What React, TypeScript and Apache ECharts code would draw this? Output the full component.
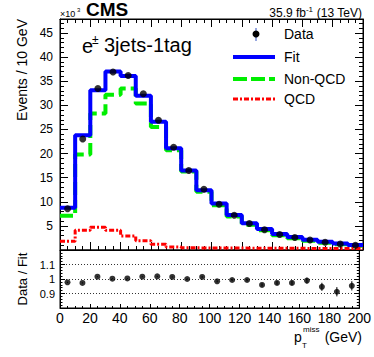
import React, { useEffect, useRef } from "react";
import * as echarts from "echarts";

const binLow = [0, 10, 20, 30, 40, 50, 60, 70, 80, 90, 100, 110, 120, 130, 140, 150, 160, 170, 180, 190];
const binHigh = [10, 20, 30, 40, 50, 60, 70, 80, 90, 100, 110, 120, 130, 140, 150, 160, 170, 180, 190, 200];
const binCenter = [5, 15, 25, 35, 45, 55, 65, 75, 85, 95, 105, 115, 125, 135, 145, 155, 165, 175, 185, 195];

const dataValues = [8.55, 23.0, 33.5, 36.9, 36.2, 32.4, 26.9, 21.3, 16.5, 12.6, 9.5, 7.2, 5.5, 4.2, 3.2, 2.6, 2.07, 1.6, 1.24, 0.97];
const fitValues = [8.75, 23.8, 33.1, 37.0, 36.1, 32.0, 26.6, 21.1, 16.5, 12.4, 9.65, 7.25, 5.55, 4.38, 3.3, 2.67, 2.1, 1.69, 1.36, 1.02];
const nonQcdValues = [7.1, 19.8, 28.3, 32.2, 33.5, 30.4, 25.5, 20.7, 16.3, 12.1, 9.3, 6.95, 5.25, 4.1, 3.05, 2.45, 1.9, 1.5, 1.2, 0.88];
const qcdValues = [1.8, 4.1, 4.7, 4.1, 2.9, 1.9, 1.2, 0.6, 0.45, 0.42, 0.4, 0.4, 0.38, 0.36, 0.35, 0.34, 0.33, 0.32, 0.3, 0.3];

const ratioValues = [0.977, 0.973, 1.016, 1.002, 1.004, 1.016, 1.018, 1.014, 1.0, 1.014, 0.984, 0.993, 0.993, 0.959, 0.973, 0.973, 0.989, 0.946, 0.912, 0.953];
const ratioErrors = [0.004, 0.004, 0.003, 0.003, 0.003, 0.003, 0.004, 0.004, 0.005, 0.006, 0.007, 0.008, 0.009, 0.011, 0.013, 0.016, 0.02, 0.028, 0.032, 0.032];

const xTicks = [0, 20, 40, 60, 80, 100, 120, 140, 160, 180, 200];

const FONT = "'Liberation Sans', Arial, Helvetica, sans-serif";

function stepPoints(vals: number[]) {
  const pts: number[][] = [];
  vals.forEach((v, i) => {
    pts.push([binLow[i], v]);
    pts.push([binHigh[i], v]);
  });
  return pts;
}

export default function App() {
  const ref = useRef<HTMLDivElement>(null);
  useEffect(() => {
    if (!ref.current) return;
    const chart = echarts.init(ref.current, null, { renderer: "svg" });

    const L = 60, W = 303, T1 = 19, H1 = 231, T2 = 250, H2 = 58;

    const xCommon = (gridIndex: number, showLabel: boolean, position: string, tickLen: number) => ({
      type: "value",
      gridIndex,
      position,
      min: 0,
      max: 200,
      interval: 20,
      axisLine: { show: true, onZero: false, lineStyle: { color: "#000", width: 1 } },
      axisTick: { show: true, inside: true, length: tickLen, lineStyle: { color: "#000" } },
      minorTick: { show: true, splitNumber: 4, length: tickLen / 2, lineStyle: { color: "#000" } },
      splitLine: { show: false },
      axisLabel: {
        show: showLabel,
        fontSize: 14,
        fontFamily: FONT,
        color: "#000",
        margin: 3,
        formatter: (v: number) => (xTicks.includes(v) ? String(v) : ""),
      },
    });

    const ratioY = (position: string, showLabel: boolean) => ({
      type: "value",
      gridIndex: 1,
      position,
      min: 0.8,
      max: 1.2,
      interval: 0.1,
      axisLine: { show: true, onZero: false, lineStyle: { color: "#000" } },
      axisTick: { show: true, inside: true, length: 5, lineStyle: { color: "#000" } },
      minorTick: { show: true, splitNumber: 5, length: 2.5, lineStyle: { color: "#000" } },
      splitLine: { show: showLabel, lineStyle: { color: "#333", type: [1, 2], width: 1 } },
      axisLabel: {
        show: showLabel,
        fontSize: 11,
        fontFamily: FONT,
        color: "#000",
        margin: 5,
        formatter: (v: number) => {
          if (Math.abs(v - 1) < 1e-6) return "1";
          if (Math.abs(v - 0.9) < 1e-6) return "0.9";
          if (Math.abs(v - 1.1) < 1e-6) return "1.1";
          return "";
        },
      },
    });

    const option: any = {
      animation: false,
      backgroundColor: "#fff",
      grid: [
        { left: L, top: T1, width: W, height: H1, show: true, borderColor: "#000", borderWidth: 1, backgroundColor: "transparent" },
        { left: L, top: T2, width: W, height: H2, show: true, borderColor: "#000", borderWidth: 1, backgroundColor: "transparent" },
      ],
      xAxis: [
        xCommon(0, false, "bottom", 8),
        xCommon(1, true, "bottom", 4),
        xCommon(0, false, "top", 8),
      ],
      yAxis: [
        {
          type: "value",
          gridIndex: 0,
          position: "left",
          min: 0,
          max: 47.9,
          interval: 5,
          axisLine: { show: true, onZero: false, lineStyle: { color: "#000" } },
          axisTick: { show: true, inside: true, length: 8, lineStyle: { color: "#000" } },
          minorTick: { show: true, splitNumber: 5, length: 4, lineStyle: { color: "#000" } },
          splitLine: { show: false },
          axisLabel: {
            fontSize: 12,
            fontFamily: FONT,
            color: "#000",
            margin: 7,
            formatter: (v: number) => (v > 0 && Math.abs(v % 5) < 1e-6 ? String(v) : ""),
          },
        },
        {
          type: "value",
          gridIndex: 0,
          position: "right",
          min: 0,
          max: 47.9,
          interval: 5,
          axisLine: { show: true, onZero: false, lineStyle: { color: "#000" } },
          axisTick: { show: true, inside: true, length: 8, lineStyle: { color: "#000" } },
          minorTick: { show: true, splitNumber: 5, length: 4, lineStyle: { color: "#000" } },
          splitLine: { show: false },
          axisLabel: { show: false },
        },
        ratioY("left", true),
        ratioY("right", false),
      ],
      series: [
        {
          name: "Non-QCD",
          type: "line",
          xAxisIndex: 0,
          yAxisIndex: 0,
          data: stepPoints(nonQcdValues),
          symbol: "none",
          lineStyle: { color: "#00ee00", width: 4, type: [13, 5] },
          z: 2,
        },
        {
          name: "Fit",
          type: "line",
          xAxisIndex: 0,
          yAxisIndex: 0,
          data: stepPoints(fitValues),
          symbol: "none",
          lineStyle: { color: "#0000ff", width: 4 },
          z: 3,
        },
        {
          name: "QCD",
          type: "line",
          xAxisIndex: 0,
          yAxisIndex: 0,
          data: stepPoints(qcdValues),
          symbol: "none",
          lineStyle: { color: "#ff0000", width: 3, type: [5, 2, 2, 2] },
          z: 4,
        },
        {
          name: "Data",
          type: "scatter",
          xAxisIndex: 0,
          yAxisIndex: 0,
          data: binCenter.map((x, i) => [x, dataValues[i]]),
          symbol: "circle",
          symbolSize: 7,
          itemStyle: { color: "#000" },
          z: 5,
        },
        {
          name: "RatioErr",
          type: "custom",
          xAxisIndex: 1,
          yAxisIndex: 2,
          data: binCenter.map((x, i) => [x, ratioValues[i] - ratioErrors[i], ratioValues[i] + ratioErrors[i]]),
          renderItem: (params: any, api: any) => {
            const p1 = api.coord([api.value(0), api.value(1)]);
            const p2 = api.coord([api.value(0), api.value(2)]);
            return {
              type: "line",
              shape: { x1: p1[0], y1: p1[1], x2: p2[0], y2: p2[1] },
              style: { stroke: "#000", lineWidth: 1 },
            };
          },
          z: 4,
        },
        {
          name: "Ratio",
          type: "scatter",
          xAxisIndex: 1,
          yAxisIndex: 2,
          data: binCenter.map((x, i) => [x, ratioValues[i]]),
          symbol: "circle",
          symbolSize: 6,
          itemStyle: { color: "#000" },
          z: 5,
        },
      ],
      graphic: [
        { type: "text", x: 86, y: 9, style: { text: "CMS", font: `bold 19px ${FONT}`, fill: "#000", align: "left", verticalAlign: "middle" } },
        { type: "text", x: 60, y: 14, style: { text: "×10", font: `9px ${FONT}`, fill: "#000", align: "left", verticalAlign: "middle" } },
        { type: "text", x: 77, y: 10, style: { text: "3", font: `6px ${FONT}`, fill: "#000", align: "left", verticalAlign: "middle" } },
        { type: "text", x: 362, y: 13, style: { text: " (13 TeV)", font: `12px ${FONT}`, fill: "#000", align: "right", verticalAlign: "middle" } },
        { type: "text", x: 313, y: 9, style: { text: "-1", font: `8px ${FONT}`, fill: "#000", align: "right", verticalAlign: "middle" } },
        { type: "text", x: 306, y: 13, style: { text: "35.9 fb", font: `12px ${FONT}`, fill: "#000", align: "right", verticalAlign: "middle" } },
        { type: "text", x: 82, y: 46, style: { text: "e", font: `20px ${FONT}`, fill: "#000", align: "left", verticalAlign: "middle" } },
        { type: "text", x: 92, y: 40, style: { text: "±", font: `12px ${FONT}`, fill: "#000", align: "left", verticalAlign: "middle" } },
        { type: "text", x: 104, y: 45, style: { text: "3jets-1tag", font: `20px ${FONT}`, fill: "#000", align: "left", verticalAlign: "middle" } },
        { type: "line", shape: { x1: 256, y1: 28, x2: 256, y2: 41 }, style: { stroke: "#3050c0", lineWidth: 1 } },
        { type: "circle", shape: { cx: 256, cy: 34, r: 3.5 }, style: { fill: "#000" } },
        { type: "text", x: 284, y: 34, style: { text: "Data", font: `14px ${FONT}`, fill: "#000", align: "left", verticalAlign: "middle" } },
        { type: "line", shape: { x1: 233, y1: 57, x2: 275, y2: 57 }, style: { stroke: "#0000ff", lineWidth: 4 } },
        { type: "text", x: 284, y: 57, style: { text: "Fit", font: `14px ${FONT}`, fill: "#000", align: "left", verticalAlign: "middle" } },
        { type: "line", shape: { x1: 233, y1: 79, x2: 275, y2: 79 }, style: { stroke: "#00ee00", lineWidth: 4, lineDash: [14, 4] } },
        { type: "text", x: 284, y: 79, style: { text: "Non-QCD", font: `14px ${FONT}`, fill: "#000", align: "left", verticalAlign: "middle" } },
        { type: "line", shape: { x1: 233, y1: 99, x2: 275, y2: 99 }, style: { stroke: "#ff0000", lineWidth: 3, lineDash: [5, 2, 2, 2] } },
        { type: "text", x: 284, y: 99, style: { text: "QCD", font: `14px ${FONT}`, fill: "#000", align: "left", verticalAlign: "middle" } },
        { type: "text", x: 22, y: 19, rotation: Math.PI / 2, style: { text: "Events / 10 GeV", font: `14px ${FONT}`, fill: "#000", align: "right", verticalAlign: "middle" } },
        { type: "text", x: 22, y: 279, rotation: Math.PI / 2, style: { text: "Data / Fit", font: `13px ${FONT}`, fill: "#000", align: "center", verticalAlign: "middle" } },
        { type: "text", x: 294, y: 337, style: { text: "p", font: `14px ${FONT}`, fill: "#000", align: "left", verticalAlign: "middle" } },
        { type: "text", x: 302, y: 345, style: { text: "T", font: `8px ${FONT}`, fill: "#000", align: "left", verticalAlign: "middle" } },
        { type: "text", x: 303, y: 329, style: { text: "miss", font: `8px ${FONT}`, fill: "#000", align: "left", verticalAlign: "middle" } },
        { type: "text", x: 362, y: 337, style: { text: "(GeV)", font: `14px ${FONT}`, fill: "#000", align: "right", verticalAlign: "middle" } },
      ],
    };

    chart.setOption(option);
    return () => chart.dispose();
  }, []);

  return (
    <div
      ref={ref}
      style={{ position: "absolute", left: 0, top: 0, width: 374, height: 357, background: "#fff" }}
    />
  );
}
